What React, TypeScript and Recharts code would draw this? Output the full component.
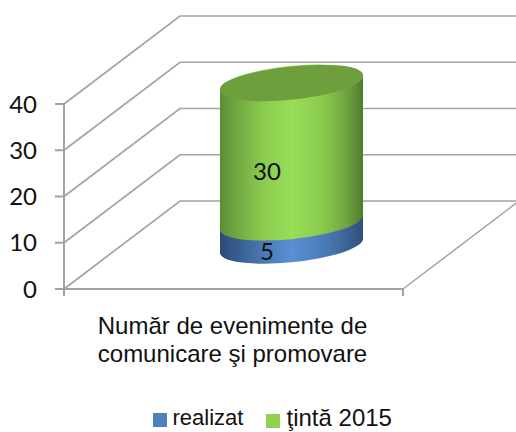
import { Bar, BarChart, CartesianGrid, LabelList, Legend, XAxis, YAxis } from 'recharts';

const categories = ['Număr de evenimente de\ncomunicare şi promovare'];
const realizat = [5];
const tinta = [30];
const yTicks = [0, 10, 20, 30, 40];

const chartData = categories.map((name, i) => ({ name, realizat: realizat[i], tinta: tinta[i] }));

const AXIS_COLOR = '#a3a3a3';
const DIGIT_FONT = 'Lato, sans-serif';
const TEXT_FONT = '"Liberation Sans", Arial, sans-serif';
// fake 3D: how far the back wall sits from the front of the floor
const DEPTH_X = 116;
const DEPTH_Y = 88;
const LEGEND_SIZES = [22, 24];

function WallLine(props: any) {
  const { x1, x2, y1, index } = props;
  const isFloor = index === 0 || y1 > 280;
  return (
    <g key={`wall-${y1}`} fill="none" stroke={AXIS_COLOR}>
      <polyline points={`${x1},${y1} ${x1 + DEPTH_X},${y1 - DEPTH_Y} 516,${y1 - DEPTH_Y}`} strokeWidth={1.7} />
      {isFloor && (
        <>
          <line x1={x1} y1={y1} x2={x2} y2={y1} strokeWidth={2} />
          <line x1={x2} y1={y1} x2={x2 + DEPTH_X} y2={y1 - DEPTH_Y} strokeWidth={1.5} />
          <line x1={x1} y1={y1} x2={x1} y2={y1 + 7} strokeWidth={2} />
          <line x1={x2} y1={y1} x2={x2} y2={y1 + 7} strokeWidth={2} />
        </>
      )}
    </g>
  );
}

function Cylinder(props: any) {
  const { x, y, width, height, bodyFill, capFill } = props;
  const cx = x + width / 2 + DEPTH_X / 2;
  const halfW = width / 2;
  const rx = halfW * 1.006;
  const ry = halfW * 0.231;
  const skew = halfW * 0.098;
  const top = y - DEPTH_Y / 2;
  const bottom = top + height;
  const arc = `A${rx} ${ry} -5.9 1 0`;
  const body = [
    `M${cx - halfW} ${top + skew}`,
    `L${cx - halfW} ${bottom + skew}`,
    `${arc} ${cx + halfW} ${bottom - skew}`,
    `L${cx + halfW} ${top - skew}`,
    `${arc} ${cx - halfW} ${top + skew}`,
    'Z',
  ].join(' ');
  return (
    <g>
      <path d={body} fill={bodyFill} />
      {capFill && (
        <ellipse cx={cx} cy={top} rx={rx} ry={ry} fill={capFill} transform={`rotate(-5.9 ${cx} ${top})`} />
      )}
    </g>
  );
}

function CategoryTick(props: any) {
  const { x, payload } = props;
  const lines = String(payload.value).split('\n');
  return (
    <text textAnchor="middle" fontFamily={TEXT_FONT} fontSize={24} fill="#111">
      {lines.map((line, i) => (
        <tspan key={line} x={x - 1} y={334 + i * 28}>
          {line}
        </tspan>
      ))}
    </text>
  );
}

function CylinderLabel(props: any) {
  const { x, y, width, height, value } = props;
  return (
    <text
      x={x + width / 2 + 33.5}
      y={y + height / 2 - 26.5}
      textAnchor="middle"
      dominantBaseline="central"
      fontFamily={DIGIT_FONT}
      fontSize={24}
      fill="#111"
    >
      {value}
    </text>
  );
}

function ChartLegend({ payload }: any) {
  return (
    <div style={{ position: 'relative', height: 33, fontFamily: TEXT_FONT, color: '#111' }}>
      {(payload ?? []).map((item: any, i: number) => (
        <span key={item.value} style={{ position: 'absolute', left: i === 0 ? 153 : 266, top: 5, whiteSpace: 'nowrap', fontSize: LEGEND_SIZES[i], lineHeight: '28px' }}>
          <span style={{ display: 'inline-block', width: 13.5, height: 14, marginRight: i === 0 ? 6 : 7, background: item.color, verticalAlign: -2 }} />
          {item.value}
        </span>
      ))}
    </div>
  );
}

export default function App() {
  return (
    <div style={{ position: 'absolute', left: 0, top: 0, width: 516, height: 432, background: '#fff', overflow: 'hidden' }}>
      <BarChart
        width={516}
        height={432}
        data={chartData}
        barSize={143}
        margin={{ top: 104, right: 113, bottom: 0, left: 0 }}
      >
        <defs>
          <linearGradient id="greenBody" x1="0" y1="0" x2="1" y2="0">
            <stop offset="0" stopColor="#5d8c37" />
            <stop offset="0.12" stopColor="#72a843" />
            <stop offset="0.3" stopColor="#8acb4e" />
            <stop offset="0.5" stopColor="#98de58" />
            <stop offset="0.72" stopColor="#8acb4e" />
            <stop offset="0.9" stopColor="#6d9f3e" />
            <stop offset="1" stopColor="#4e7a2e" />
          </linearGradient>
          <linearGradient id="blueBody" x1="0" y1="0" x2="1" y2="0">
            <stop offset="0" stopColor="#2b4a75" />
            <stop offset="0.3" stopColor="#4a79b4" />
            <stop offset="0.5" stopColor="#5a8fd2" />
            <stop offset="0.75" stopColor="#4a79b4" />
            <stop offset="1" stopColor="#304f7c" />
          </linearGradient>
        </defs>
        <CartesianGrid horizontal={WallLine} vertical={false} />
        <XAxis
          dataKey="name"
          height={110}
          axisLine={false}
          tickLine={false}
          tick={CategoryTick}
          interval={0}
        />
        <YAxis
          domain={[0, 40]}
          ticks={yTicks}
          width={64}
          tickSize={9}
          tickMargin={18}
          interval={0}
          axisLine={{ stroke: AXIS_COLOR, strokeWidth: 2 }}
          tickLine={{ stroke: AXIS_COLOR, strokeWidth: 2 }}
          tick={{ fill: '#111', fontFamily: DIGIT_FONT, fontSize: 24 }}
        />
        <Legend verticalAlign="bottom" height={33} content={ChartLegend} />
        <Bar
          dataKey="realizat"
          name="realizat"
          stackId="a"
          fill="#4f81bd"
          isAnimationActive={false}
          shape={(p: any) => <Cylinder {...p} bodyFill="url(#blueBody)" />}
        >
          <LabelList dataKey="realizat" content={CylinderLabel} />
        </Bar>
        <Bar
          dataKey="tinta"
          name="ţintă 2015"
          stackId="a"
          fill="#92d050"
          isAnimationActive={false}
          shape={(p: any) => <Cylinder {...p} bodyFill="url(#greenBody)" capFill="#6f9f3d" />}
        >
          <LabelList dataKey="tinta" content={CylinderLabel} />
        </Bar>
      </BarChart>
    </div>
  );
}
